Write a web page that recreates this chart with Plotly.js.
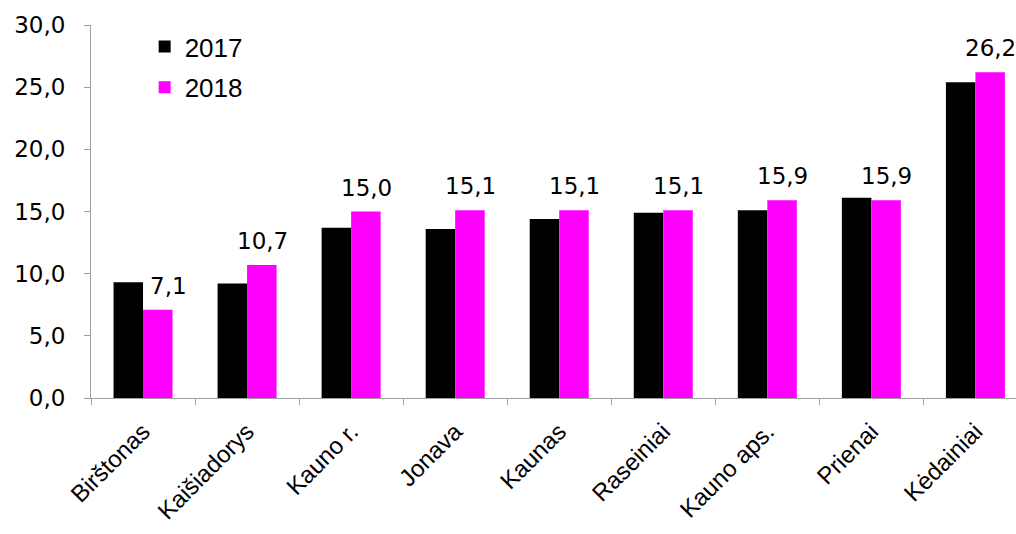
<!DOCTYPE html>
<html>
<head>
<meta charset="utf-8">
<script src="https://cdn.plot.ly/plotly-3.0.1.min.js"></script>
<style>html,body{margin:0;padding:0;background:#fff;}#chart{width:1016px;height:534px;}</style>
</head>
<body>
<div id="chart"></div>
<script>
const categories = ["Birštonas", "Kaišiadorys", "Kauno r.", "Jonava", "Kaunas", "Raseiniai", "Kauno aps.", "Prienai", "Kėdainiai"];
const values2017 = [9.3, 9.2, 13.7, 13.6, 14.4, 14.9, 15.1, 16.1, 25.4];
const values2018 = [7.1, 10.7, 15.0, 15.1, 15.1, 15.1, 15.9, 15.9, 26.2];
const yTicks = [0, 5, 10, 15, 20, 25, 30];

const tickFont = {family: "DejaVu Sans, Liberation Sans, Arial, sans-serif", size: 23, color: "#000"};
const catFont = {family: "Liberation Sans, Arial, sans-serif", size: 24, color: "#000"};
const legendFont = {family: "Liberation Sans, Arial, sans-serif", size: 26, color: "#000"};

const fmt = v => v.toFixed(1).replace(".", ",");

const traces = [
  {type: "bar", name: "2017", legendgroup: "a", x: categories, y: values2017, marker: {color: "#000000"}, hoverinfo: "y"},
  {type: "bar", name: "2018", legendgroup: "b", x: categories, y: values2018, marker: {color: "#FF00FF"}, hoverinfo: "y"}
];

const annotations = categories.map((c, i) => ({
  x: c, y: values2018[i], xref: "x", yref: "y",
  text: fmt(values2018[i]),
  showarrow: false,
  xanchor: "center", yanchor: "bottom",
  xshift: i === 0 ? 25 : 15, yshift: 9,
  font: tickFont
}));

const layout = {
  width: 1016, height: 534,
  margin: {l: 91, r: 0, t: 25, b: 136},
  paper_bgcolor: "#fff", plot_bgcolor: "#fff",
  font: tickFont,
  separators: ", ",
  barmode: "group",
  bargap: 0.433,
  bargroupgap: 0,
  showlegend: true,
  legend: {x: 0.058, y: 1.005, xanchor: "left", yanchor: "top", font: legendFont,
           bgcolor: "rgba(0,0,0,0)", traceorder: "grouped", tracegroupgap: 4, itemwidth: 30},
  annotations: annotations,
  xaxis: {
    type: "category",
    range: [-0.5, 8.39],
    tickangle: -45,
    tickson: "boundaries",
    ticks: "outside", ticklen: 6, tickcolor: "#a0a0a0",
    showline: true, linecolor: "#a0a0a0", linewidth: 1,
    showgrid: false, zeroline: false,
    tickfont: catFont,
    ticklabelstandoff: 9,
    fixedrange: true
  },
  yaxis: {
    range: [0, 30],
    tickvals: yTicks,
    tickformat: ".1f",
    ticks: "outside", ticklen: 6, tickcolor: "#a0a0a0",
    showline: true, linecolor: "#a0a0a0", linewidth: 1,
    showgrid: false, zeroline: false,
    tickfont: tickFont,
    ticklabelstandoff: 14,
    fixedrange: true
  }
};

Plotly.newPlot("chart", traces, layout, {displayModeBar: false, staticPlot: true});
</script>
</body>
</html>
